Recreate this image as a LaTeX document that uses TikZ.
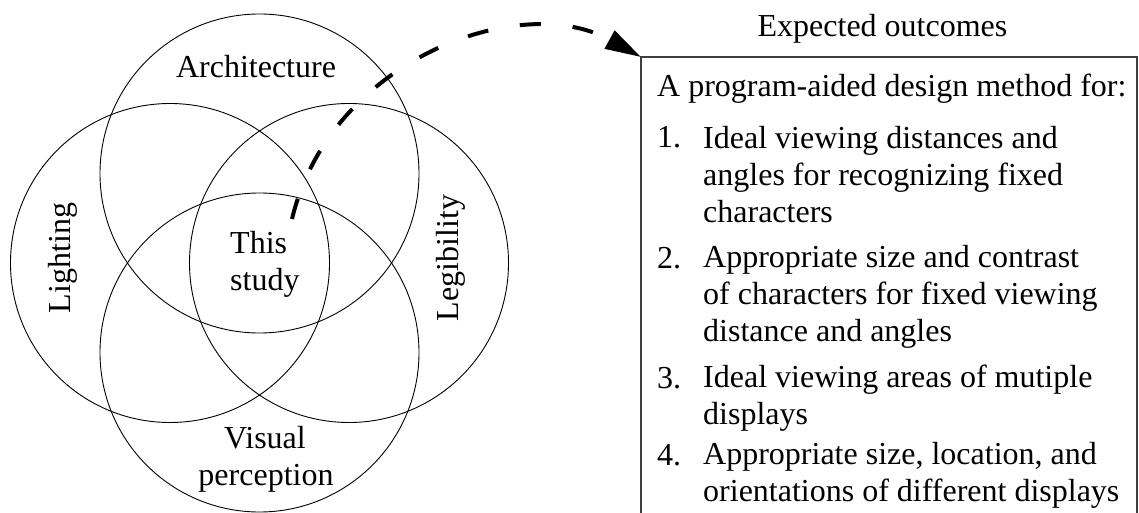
\documentclass[tikz,border=0pt]{standalone}
\usepackage{fontspec}
\setmainfont{Liberation Serif}
\usetikzlibrary{arrows.meta}
\begin{document}
\begin{tikzpicture}[x=1pt,y=-1pt,
  venn/.style={circle,draw,line width=0.9pt,minimum size=319pt,inner sep=0pt},
  lbl/.style={font=\fontsize{32}{36.7}\selectfont,inner sep=0pt},
  item/.style={lbl,align=left,anchor=base west},
  num/.style={lbl,anchor=base west},
  boxline/.style={line width=1.2pt,black!75},
  flow/.style={line width=4pt,dash pattern=on 21pt off 32pt,-{Triangle[length=36pt,width=20pt]}}]
\useasboundingbox (0,0) rectangle (1139,513);
% circles
\node[venn] (arch) at (259.5,173.5) {};
\node[venn] (light) at (170,263) {};
\node[venn] (legib) at (349,263) {};
\node[venn] (vis) at (259.5,352.5) {};
% circle labels
\node[lbl,anchor=base] (tarch) at (256,78) {Architecture};
\node[lbl,anchor=base,rotate=90] (tlight) at (70,258) {Lighting};
\node[lbl,anchor=base,rotate=90] (tlegib) at (458,258) {Legibility};
\node[lbl,anchor=base] (tvis1) at (265,448) {Visual};
\node[lbl,anchor=base] (tvis2) at (266,485) {perception};
\node[lbl,anchor=base west] (this1) at (230,253) {This};
\node[lbl,anchor=base west] (this2) at (230,290) {study};
% outcomes box
\coordinate (boxNW) at (641,57);
\coordinate (boxNE) at (1137,57);
\coordinate (boxSW) at (641,513);
\coordinate (boxSE) at (1137,513);
\draw[boxline] (boxSW) -- (boxNW) -- (boxNE) -- (boxSE);
\node[lbl,anchor=base] (title) at (882.5,37) {Expected outcomes};
\node[num] (head) at (657,97) {A program-aided design method for:};
% multi-line nodes: base anchor = baseline of last line
\node[num] (n1) at (657,148) {1.};
\node[item] (i1) at (703,222) {Ideal viewing distances and\\angles for recognizing fixed\\characters};
\node[num] (n2) at (657,268) {2.};
\node[item] (i2) at (703,341) {Appropriate size and contrast\\of characters for fixed viewing\\distance and angles};
\node[num] (n3) at (657,388) {3.};
\node[item] (i3) at (703,424) {Ideal viewing areas of mutiple\\displays};
\node[num] (n4) at (657,465) {4.};
\node[item] (i4) at (703,501) {Appropriate size, location, and\\orientations of different displays};
% dashed arrow
\coordinate (start) at (292,219);
\draw[flow] (start) .. controls (330,60) and (520,-10) .. (boxNW);
\end{tikzpicture}
\end{document}
